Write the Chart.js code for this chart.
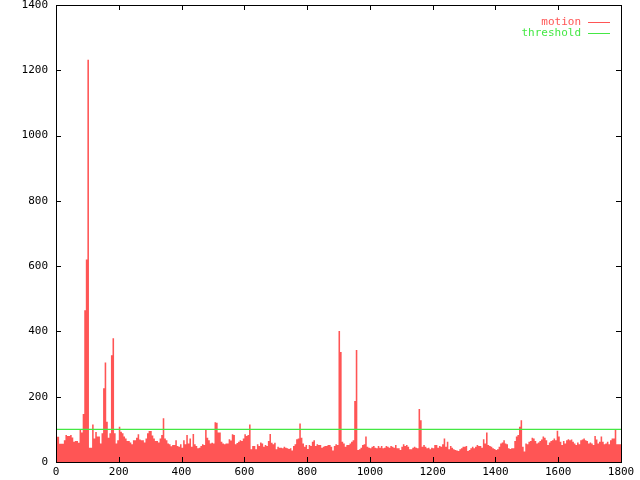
<!DOCTYPE html>
<html>
<head>
<meta charset="utf-8">
<script src="https://cdn.jsdelivr.net/npm/chart.js@4/dist/chart.umd.min.js"></script>
<style>
  body { margin: 0; background: #fff; }
  canvas { display: block; }
</style>
</head>
<body>
<canvas id="motionChart" width="640" height="480"></canvas>
<script>
// frame step between samples
const frameStep = 5;

// motion per sample (frames 0, 5, 10 ... 1800)
const motion = [
  90, 77, 77, 56, 56, 56, 67, 83, 80, 80,
  83, 75, 62, 64, 64, 59, 98, 90, 147, 465,
  620, 1232, 44, 44, 115, 72, 92, 78, 78, 57,
  88, 226, 305, 123, 74, 88, 327, 379, 88, 57,
  67, 108, 93, 88, 78, 72, 64, 64, 60, 54,
  67, 67, 74, 85, 69, 67, 67, 60, 72, 88,
  95, 95, 81, 72, 64, 64, 60, 72, 83, 134,
  72, 67, 57, 54, 48, 52, 52, 67, 49, 47,
  54, 44, 67, 54, 83, 57, 72, 47, 86, 54,
  49, 42, 44, 49, 54, 52, 98, 74, 67, 57,
  59, 57, 122, 120, 90, 90, 62, 57, 54, 57,
  57, 70, 66, 85, 83, 54, 58, 62, 67, 64,
  72, 85, 80, 83, 115, 39, 49, 49, 39, 54,
  49, 60, 57, 47, 52, 49, 64, 86, 59, 54,
  59, 39, 47, 44, 44, 42, 47, 44, 42, 40,
  42, 35, 49, 54, 70, 72, 118, 74, 57, 47,
  52, 40, 52, 49, 62, 67, 49, 54, 52, 52,
  44, 47, 49, 49, 52, 52, 47, 35, 49, 54,
  52, 401, 337, 62, 57, 47, 52, 52, 57, 62,
  67, 187, 343, 37, 39, 44, 52, 54, 78, 47,
  44, 42, 47, 49, 44, 42, 49, 44, 49, 42,
  44, 49, 47, 44, 49, 47, 44, 52, 42, 42,
  37, 47, 54, 49, 52, 47, 39, 39, 44, 47,
  44, 42, 162, 128, 47, 52, 47, 42, 44, 39,
  44, 42, 52, 52, 44, 49, 47, 54, 72, 47,
  62, 39, 49, 44, 39, 37, 35, 34, 39, 42,
  47, 47, 49, 34, 37, 42, 47, 42, 47, 52,
  49, 49, 44, 70, 57, 90, 52, 49, 47, 42,
  40, 37, 39, 47, 57, 60, 67, 57, 54, 42,
  40, 42, 42, 64, 78, 83, 108, 128, 47, 32,
  57, 54, 62, 64, 74, 72, 64, 57, 60, 64,
  69, 78, 74, 67, 52, 60, 64, 67, 72, 67,
  96, 78, 62, 52, 64, 57, 67, 70, 67, 69,
  62, 57, 52, 60, 54, 67, 69, 72, 67, 64,
  57, 60, 57, 52, 80, 69, 57, 62, 78, 62,
  54, 57, 62, 54, 67, 72, 72, 100, 54, 54, 54
];

const thresholdValue = 100;
const xTicks = [0, 200, 400, 600, 800, 1000, 1200, 1400, 1600, 1800];
const yTicks = [0, 200, 400, 600, 800, 1000, 1200, 1400];

const motionColor = '#ff5555';
const thresholdColor = '#44e844';
const monoFont = '"DejaVu Sans Mono", "Liberation Mono", monospace';

Chart.defaults.font.family = monoFont;
Chart.defaults.font.size = 11;
Chart.defaults.color = '#000';

const motionPoints = motion.map((v, i) => ({ x: i * frameStep, y: v }));
const thresholdPoints = [
  { x: xTicks[0], y: thresholdValue },
  { x: xTicks[xTicks.length - 1], y: thresholdValue }
];

// gnuplot-ish frame: border box, inward mirrored tics, key top right
const gnuplotFrame = {
  id: 'gnuplotFrame',
  afterDatasetsDraw(chart) {
    const { ctx, chartArea: a, scales } = chart;
    ctx.save();
    ctx.strokeStyle = '#000';
    ctx.lineWidth = 1;
    ctx.strokeRect(Math.round(a.left) + 0.5, Math.round(a.top) + 0.5,
      Math.round(a.right - a.left), Math.round(a.bottom - a.top));
    ctx.beginPath();
    yTicks.forEach(t => {
      const y = Math.round(scales.y.getPixelForValue(t)) + 0.5;
      ctx.moveTo(a.left, y); ctx.lineTo(a.left + 5, y);
      ctx.moveTo(a.right, y); ctx.lineTo(a.right - 5, y);
    });
    xTicks.forEach(t => {
      const x = Math.round(scales.x.getPixelForValue(t)) + 0.5;
      ctx.moveTo(x, a.bottom); ctx.lineTo(x, a.bottom - 5);
      ctx.moveTo(x, a.top); ctx.lineTo(x, a.top + 5);
    });
    ctx.stroke();

    // key
    ctx.font = '11px ' + monoFont;
    ctx.textAlign = 'right';
    ctx.textBaseline = 'middle';
    const keys = [['motion', motionColor], ['threshold', thresholdColor]];
    keys.forEach(([label, color], i) => {
      const y = 22 + i * 11;
      ctx.fillStyle = color;
      ctx.fillText(label, 581, y);
      ctx.strokeStyle = color;
      ctx.beginPath();
      ctx.moveTo(588, y + 0.5);
      ctx.lineTo(610, y + 0.5);
      ctx.stroke();
    });
    ctx.restore();
  }
};

new Chart(document.getElementById('motionChart').getContext('2d'), {
  type: 'line',
  data: {
    datasets: [
      {
        label: 'motion',
        data: motionPoints,
        stepped: 'after',
        fill: 'origin',
        backgroundColor: motionColor,
        borderColor: motionColor,
        borderWidth: 0,
        pointRadius: 0,
        order: 1
      },
      {
        label: 'threshold',
        data: thresholdPoints,
        borderColor: thresholdColor,
        borderWidth: 1.2,
        pointRadius: 0,
        fill: false,
        order: 0
      }
    ]
  },
  options: {
    responsive: false,
    animation: false,
    devicePixelRatio: 1,
    layout: { padding: { top: 5, right: 19, left: 0, bottom: 0 } },
    plugins: {
      legend: { display: false },
      tooltip: { enabled: false }
    },
    scales: {
      x: {
        type: 'linear',
        min: 0,
        max: 1800,
        grid: { display: false, drawTicks: false },
        border: { display: false },
        ticks: { stepSize: 200, padding: 4, maxRotation: 0, callback: v => String(v) },
        afterFit(s) { s.height = 18; s.paddingLeft = 0; s.paddingRight = 0; }
      },
      y: {
        type: 'linear',
        min: 0,
        max: 1400,
        grid: { display: false, drawTicks: false },
        border: { display: false },
        ticks: { stepSize: 200, padding: 8, callback: v => String(v) },
        afterFit(s) { s.width = 56; s.paddingTop = 0; s.paddingBottom = 0; }
      }
    }
  },
  plugins: [gnuplotFrame]
});
</script>
</body>
</html>
